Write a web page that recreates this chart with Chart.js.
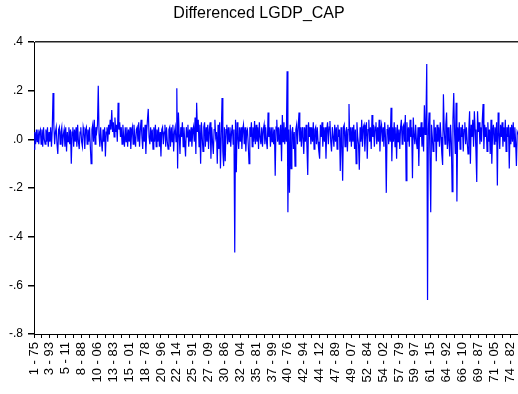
<!DOCTYPE html>
<html>
<head>
<meta charset="utf-8">
<title>Differenced LGDP_CAP</title>
<script src="https://cdn.jsdelivr.net/npm/chart.js@4.4.0/dist/chart.umd.min.js"></script>
<style>
  html, body { margin: 0; padding: 0; background: #fff; }
  #wrap { width: 518px; height: 394px; position: relative; }
</style>
</head>
<body>
<div id="wrap"><canvas id="chart"></canvas></div>
<script>
// panel observations, one reading every OBS_STEP observations
const OBS_STEP = 5;
const OBS_MAX = 3050;

// cross-section id - year labels, one every 100 observations
const tickLabels = [
  '1 - 75', '3 - 93', '5 - 11', '8 - 88', '10 - 06', '13 - 83', '15 - 01', '18 - 78',
  '20 - 96', '22 - 14', '25 - 91', '27 - 09', '30 - 86', '32 - 04', '35 - 81', '37 - 99',
  '40 - 76', '42 - 94', '44 - 12', '47 - 89', '49 - 07', '52 - 84', '54 - 02', '57 - 79',
  '59 - 97', '61 - 15', '64 - 92', '66 - 10', '69 - 87', '71 - 05', '74 - 82'
];

const yTicks = [-0.8, -0.6, -0.4, -0.2, 0, 0.2, 0.4];
const yTickLabels = ['-.8', '-.6', '-.4', '-.2', '.0', '.2', '.4'];

// first difference of log GDP per capita
const dLgdpCap = [
  -.04, .03, -.02, .04, -.01, .04, -.02, .03, .04, -.02,
  .04, -.03, .05, .00, -.02, .04, -.01, .05, -.03, .03,
  -.01, .05, -.03, .04, .19, .06, -.02, .03, .05, -.02,
  -.06, .04, .05, -.02, .03, .05, -.03, .02, .04, -.03,
  .05, -.05, .03, -.01, .05, -.02, .04, -.10, .03, .05,
  -.03, .04, -.01, .05, -.03, .06, -.01, -.04, .03, .05,
  -.01, -.03, .05, .03, -.04, .04, .05, -.02, .04, -.01,
  .05, -.03, -.10, .04, .06, -.01, .08, -.02, .05, .03,
  .06, .22, .02, -.03, .05, -.01, -.05, .04, -.01, .05,
  -.07, .03, .05, -.01, .06, .02, .08, .04, .12, .03,
  .07, .01, .09, .03, .06, -.01, .15, .04, .07, .01,
  .05, -.02, .06, .01, -.03, .05, -.01, .05, -.03, .04,
  -.01, .05, -.04, .03, .05, -.02, .06, .01, -.03, .04,
  .05, -.01, .07, -.03, .04, .08, .01, -.04, .05, -.01,
  .06, -.06, .03, .08, .125, .01, -.02, .05, -.01, .04,
  -.04, .05, -.01, .06, -.03, .04, -.01, .05, -.03, .03,
  -.07, .04, .05, -.02, .03, .06, -.03, .05, -.01, -.04,
  .04, .05, -.03, .05, -.01, .06, -.05, .03, .05, -.01,
  .21, -.12, .11, .02, -.06, .05, .01, .07, -.03, .05,
  -.01, -.07, .05, .01, .06, -.03, .04, -.01, .05, -.03,
  .03, .05, -.01, .09, -.06, .15, .03, .08, -.03, .06,
  -.10, .07, .01, -.05, .05, .07, -.03, .05, -.01, .06,
  -.04, .04, .07, -.08, .05, -.01, -.06, .04, .08, .01,
  .03, -.10, .06, -.04, .07, -.12, .02, .17, -.05, -.11,
  .05, -.09, .04, .06, -.02, .05, -.01, .05, -.03, .03,
  .06, -.02, .04, -.465, .08, -.135, .07, .01, -.04, .05,
  -.01, .05, -.04, .04, .06, -.02, .05, -.05, .03, .04,
  -.02, -.10, .05, .01, .07, -.03, .05, -.01, .075, -.02,
  .06, -.01, .05, -.04, .07, .01, -.02, .05, -.03, .04,
  .06, -.02, .05, -.01, -.04, .11, .01, .05, -.03, .05,
  -.01, .05, -.02, .04, -.15, .05, .08, -.01, .05, -.02,
  .04, .06, -.09, .10, -.01, .07, -.02, .05, -.01, .28,
  -.30, .04, -.22, .06, -.12, .03, .05, -.04, .03, -.11,
  .04, .06, -.02, .05, .11, -.01, .05, -.03, .05, .01,
  -.06, .05, -.01, .06, -.03, -.147, .07, .01, .05, -.02,
  .05, -.01, .07, -.04, .04, .05, -.02, .05, -.01, -.05,
  -.08, .06, .01, .07, -.03, .05, -.01, .05, -.08, .04,
  .07, -.02, .05, .075, -.01, -.05, .05, .01, -.03, .06,
  -.01, .05, -.04, .06, .01, .04, -.13, .05, -.02, -.17,
  .05, .06, -.03, .03, .05, -.05, .04, .145, -.01, .05,
  -.03, .05, -.01, .06, -.04, .04, -.10, .07, .01, -.02,
  -.125, .05, -.01, .08, -.03, .05, .06, -.05, .03, .07,
  -.08, .04, .08, -.01, .05, -.04, .10, .01, .06, -.03,
  .05, .07, -.02, .05, -.01, .08, -.05, .04, .06, -.01,
  .05, -.03, .07, .01, -.22, .04, .06, -.02, .05, -.01,
  .13, -.09, .05, -.01, .07, -.03, .05, -.08, .06, -.01,
  .04, -.04, .05, .08, -.02, .05, .06, -.01, .10, -.17,
  .07, -.01, .05, -.03, .08, .01, .05, -.16, .09, .02,
  -.02, .06, -.01, -.04, .05, -.11, .05, .01, .07, -.03,
  .05, -.05, .14, .02, .07, .31, -.66, .04, .11, -.06,
  -.30, .06, .01, -.05, .08, -.01, .05, -.09, .06, -.01,
  .05, -.03, .07, .01, -.06, -.105, .185, .04, -.02, .06,
  .11, -.04, .05, -.01, -.07, .06, -.01, -.215, .08, .19,
  .03, -.06, .15, -.255, .05, -.01, .07, -.04, .05, .01,
  .06, -.05, .04, .07, -.02, .05, -.01, -.06, .04, .115,
  -.10, .06, .01, .08, -.03, .115, .04, -.05, -.175, .115,
  .03, .07, -.02, .05, -.01, .08, .145, -.04, .06, .01,
  .05, -.05, .07, -.01, .04, -.06, .08, -.10, .03, .06,
  -.02, .05, -.01, .07, -.19, .11, .03, -.04, .06, .01,
  .07, -.03, .05, -.01, .08, -.05, .05, .01, .06, -.12,
  .05, -.02, .06, -.01, .07, -.03, .05, -.01, -.11, .03,
  .02
];

const FONT = "'Liberation Sans', Arial, sans-serif";

const points = dLgdpCap.map((v, i) => ({ x: i * OBS_STEP, y: v }));

new Chart(document.getElementById('chart'), {
  type: 'line',
  data: {
    datasets: [{
      data: points,
      borderColor: '#0000ff',
      borderWidth: 1.2,
      pointRadius: 0,
      tension: 0,
      fill: false
    }]
  },
  options: {
    responsive: true,
    maintainAspectRatio: false,
    animation: false,
    devicePixelRatio: 1,
    layout: { padding: 0 },
    plugins: {
      legend: { display: false },
      tooltip: { enabled: false },
      title: {
        display: true,
        text: 'Differenced LGDP_CAP',
        color: '#000',
        font: { family: FONT, size: 16, weight: 'normal', lineHeight: 1.2 },
        padding: { top: 4, bottom: 18.8 }
      }
    },
    scales: {
      x: {
        type: 'linear',
        min: 0,
        max: OBS_MAX,
        afterFit: (scale) => {
          scale.height = 60;
          scale.paddingLeft = 0;
          scale.paddingRight = 0;
        },
        border: { display: true, color: '#000', width: 1 },
        grid: { drawOnChartArea: false, tickLength: 4, tickColor: '#000' },
        ticks: {
          stepSize: 50,
          autoSkip: false,
          minRotation: 90,
          maxRotation: 90,
          padding: 4,
          color: '#000',
          font: { family: FONT, size: 13 },
          callback: (v) => (v % 100 === 0 ? (tickLabels[v / 100] || '') : '')
        }
      },
      y: {
        min: -0.8,
        max: 0.4,
        afterFit: (scale) => { scale.width = 34; },
        afterBuildTicks: (scale) => { scale.ticks = yTicks.map(v => ({ value: v })); },
        border: { display: true, color: '#000', width: 1 },
        grid: {
          color: (ctx) => (ctx.tick && Math.abs(ctx.tick.value - 0.4) < 1e-6 ? '#222' : 'transparent'),
          lineWidth: 1.5,
          tickLength: 6,
          tickColor: '#000'
        },
        ticks: {
          padding: 5,
          color: '#000',
          font: { family: FONT, size: 12 },
          callback: (v) => {
            const k = yTicks.findIndex(t => Math.abs(t - v) < 1e-6);
            return k >= 0 ? yTickLabels[k] : '';
          }
        }
      }
    }
  }
});
</script>
</body>
</html>
